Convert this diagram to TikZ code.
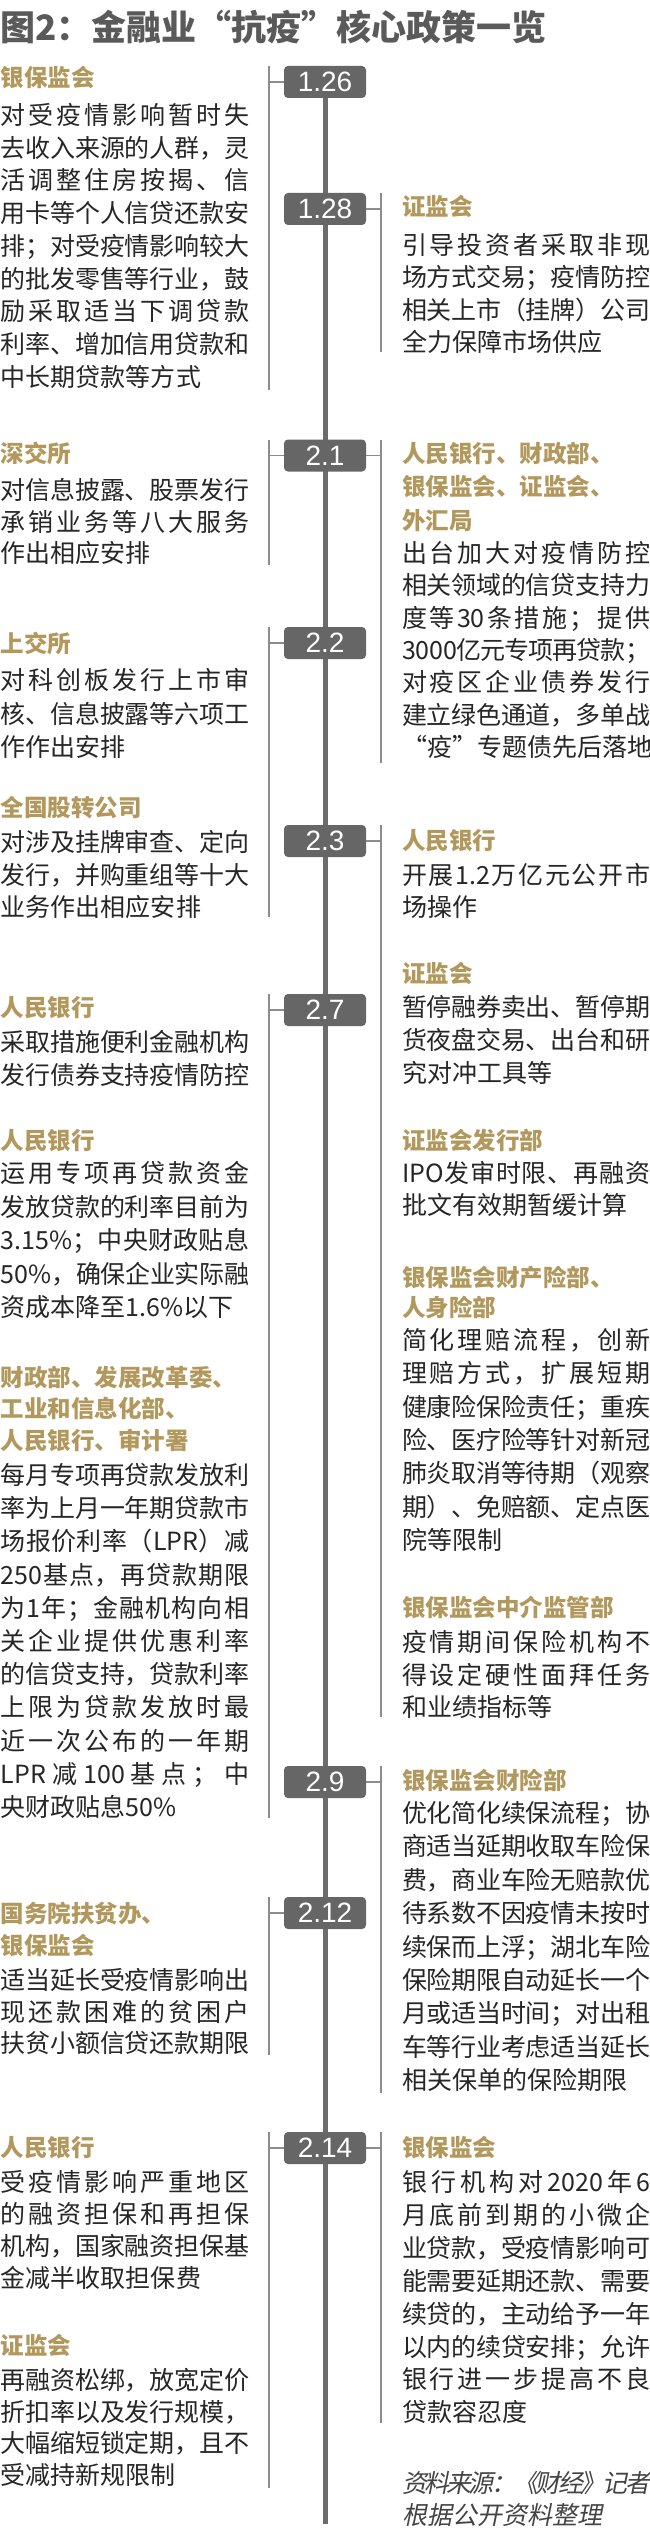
\documentclass[tikz,border=0pt]{standalone}
\usepackage{fontspec}
\setmainfont{Noto Sans CJK SC}
\newfontfamily\datefont{Liberation Sans}
\newfontfamily\srcfont[FakeSlant=0.2]{Noto Sans CJK SC}
\definecolor{gold}{RGB}{178,152,92}
\definecolor{bodycol}{RGB}{38,38,38}
\definecolor{titlecol}{RGB}{90,90,90}
\definecolor{boxcol}{RGB}{102,102,102}
\definecolor{spinecol}{RGB}{108,108,108}
\definecolor{thincol}{RGB}{140,140,140}
\definecolor{srccol}{RGB}{68,68,68}
\newdimen\jw \jw=248pt
\def\jla#1{#1\jlb}
\def\jlb#1{\ifx\relax#1\else\hskip 0pt plus 1fil minus 1fil\relax #1\expandafter\jlb\fi}
\def\Jl#1{\hbox to\jw{\jla#1\relax}}
\def\Nl#1{\hbox{#1}}
\tikzset{
  bodytext/.style={anchor=base west, inner sep=0pt, outer sep=0pt, text=bodycol, font=\fontsize{25}{25}\selectfont},
  headtext/.style={anchor=base west, inner sep=0pt, outer sep=0pt, text=gold, font=\fontsize{23.5}{23.5}\selectfont\bfseries},
  titletext/.style={anchor=base west, inner sep=0pt, outer sep=0pt, text=titlecol, font=\fontsize{35}{35}\selectfont\bfseries},
  srctext/.style={anchor=base west, inner sep=0pt, outer sep=0pt, text=srccol, font=\srcfont\fontsize{25}{25}\selectfont},
  datebox/.style={fill=boxcol, rounded corners=4pt, minimum width=82pt, minimum height=32pt, inner sep=0pt, text=white, font=\datefont\fontsize{28}{28}\selectfont},
  spine/.style={draw=spinecol, line width=5pt},
  thin/.style={draw=thincol, line width=1.2pt},
}
\newcommand\blk[5]{\node[bodytext] (#1) at (#2,#3+9.5) {\vtop{\baselineskip=#4pt\lineskiplimit=-100pt #5}};}
\newcommand\hd[5]{\node[headtext] (#1) at (#2,#3+9) {\vtop{\baselineskip=#4pt\lineskiplimit=-100pt #5}};}
\begin{document}
\begin{tikzpicture}[x=1pt,y=-1pt]
\useasboundingbox (0,0) rectangle (650,2531);
\fill[white] (0,0) rectangle (650,2531);

\node[titletext] (title) at (0,41) {图2：金融业“抗疫”核心政策一览};

% spine
\coordinate (spinetop) at (325,82);
\coordinate (spinebot) at (325,2524);
\draw[spine] (spinetop) -- (spinebot);

% date boxes
\node[datebox] (d126) at (325,82) {1.26};
\node[datebox] (d128) at (325,209) {1.28};
\node[datebox] (d21) at (325,455.5) {2.1};
\node[datebox] (d22) at (325,643) {2.2};
\node[datebox] (d23) at (325,841) {2.3};
\node[datebox] (d27) at (325,1010) {2.7};
\node[datebox] (d29) at (325,1782) {2.9};
\node[datebox] (d212) at (325,1913) {2.12};
\node[datebox] (d214) at (325,2148) {2.14};

% thin side lines (left x=269, right x=381)
\coordinate (La1) at (269,66);   \coordinate (Lb1) at (269,390);
\coordinate (La2) at (269,439.5);  \coordinate (Lb2) at (269,565);
\coordinate (La3) at (269,627);  \coordinate (Lb3) at (269,917);
\coordinate (La4) at (269,994);  \coordinate (Lb4) at (269,1818);
\coordinate (La5) at (269,1897); \coordinate (Lb5) at (269,2055);
\coordinate (La6) at (269,2132); \coordinate (Lb6) at (269,2488);
\coordinate (Ra1) at (381,193);  \coordinate (Rb1) at (381,352);
\coordinate (Ra2) at (381,439.5);  \coordinate (Rb2) at (381,763);
\coordinate (Ra3) at (381,825);  \coordinate (Rb3) at (381,1717);
\coordinate (Ra4) at (381,1766); \coordinate (Rb4) at (381,2093);
\coordinate (Ra5) at (381,2132); \coordinate (Rb5) at (381,2423);
\foreach \i in {1,...,6} {\draw[thin] (La\i) -- (Lb\i);}
\foreach \i in {1,...,5} {\draw[thin] (Ra\i) -- (Rb\i);}

% ticks
\draw[thin] (d126.west) -- (d126.west -| La1);
\draw[thin] (d128.east) -- (d128.east -| Ra1);
\draw[thin] (d21.west) -- (d21.west -| La2);
\draw[thin] (d21.east) -- (d21.east -| Ra2);
\draw[thin] (d22.west) -- (d22.west -| La3);
\draw[thin] (d23.east) -- (d23.east -| Ra3);
\draw[thin] (d27.west) -- (d27.west -| La4);
\draw[thin] (d29.east) -- (d29.east -| Ra4);
\draw[thin] (d212.west) -- (d212.west -| La5);
\draw[thin] (d214.west) -- (d214.west -| La6);
\draw[thin] (d214.east) -- (d214.east -| Ra5);

% ---------- left column ----------
\hd{hL1}{1}{78}{32}{\Nl{银保监会}}
\blk{bL1}{1}{115}{32.75}{\Jl{对受疫情影响暂时失}\Jl{去收入来源的人群，灵}\Jl{活调整住房按揭、信}\Jl{用卡等个人信贷还款安}\Jl{排；对受疫情影响较大}\Jl{的批发零售等行业，鼓}\Jl{励采取适当下调贷款}\Jl{利率、增加信用贷款和}\Nl{中长期贷款等方式}}

\hd{hL2}{1}{453}{32}{\Nl{深交所}}
\blk{bL2}{1}{490}{31.5}{\Jl{对信息披露、股票发行}\Jl{承销业务等八大服务}\Nl{作出相应安排}}

\hd{hL3}{1}{643}{32}{\Nl{上交所}}
\blk{bL3}{1}{680}{33.5}{\Jl{对科创板发行上市审}\Jl{核、信息披露等六项工}\Nl{作作出安排}}

\hd{hL4}{1}{807}{32}{\Nl{全国股转公司}}
\blk{bL4}{1}{842}{32.5}{\Jl{对涉及挂牌审查、定向}\Jl{发行，并购重组等十大}\Nl{业务作出相应安排}}

\hd{hL5}{1}{1007}{32}{\Nl{人民银行}}
\blk{bL5}{1}{1042}{33}{\Jl{采取措施便利金融机构}\Jl{发行债券支持疫情防控}}

\hd{hL6}{1}{1140}{32}{\Nl{人民银行}}
\blk{bL6}{1}{1173}{33.5}{\Jl{运用专项再贷款资金}\Jl{发放贷款的利率目前为}\Jl{{3.15\%}；中央财政贴息}\Jl{{50\%}，确保企业实际融}\Nl{资成本降至1.6\%以下}}

\hd{hL7}{1}{1377}{31.5}{\Nl{财政部、发展改革委、}\Nl{工业和信息化部、}\Nl{人民银行、审计署}}
\blk{bL7}{1}{1475}{33.2}{\Jl{每月专项再贷款发放利}\Jl{率为上月一年期贷款市}\Jl{场报价利率（{LPR}）减}\Jl{{250}基点，再贷款期限}\Jl{为{1}年；金融机构向相}\Jl{关企业提供优惠利率}\Jl{的信贷支持，贷款利率}\Jl{上限为贷款发放时最}\Jl{近一次公布的一年期}\Jl{{LPR}减{100}基点；中}\Nl{央财政贴息50\%}}

\hd{hL8}{1}{1913}{32}{\Nl{国务院扶贫办、}\Nl{银保监会}}
\blk{bL8}{1}{1980}{31.5}{\Jl{适当延长受疫情影响出}\Jl{现还款困难的贫困户}\Jl{扶贫小额信贷还款期限}}

\hd{hL9}{1}{2147}{32}{\Nl{人民银行}}
\blk{bL9}{1}{2182}{32}{\Jl{受疫情影响严重地区}\Jl{的融资担保和再担保}\Jl{机构，国家融资担保基}\Nl{金减半收取担保费}}

\hd{hL10}{1}{2345}{32}{\Nl{证监会}}
\blk{bL10}{1}{2380}{31.7}{\Jl{再融资松绑，放宽定价}\Jl{折扣率以及发行规模，}\Jl{大幅缩短锁定期，且不}\Nl{受减持新规限制}}

% ---------- right column ----------
\hd{hR1}{402}{207}{32}{\Nl{证监会}}
\blk{bR1}{402}{245}{32.3}{\Jl{引导投资者采取非现}\Jl{场方式交易；疫情防控}\Jl{相关上市（挂牌）公司}\Nl{全力保障市场供应}}

\hd{hR2}{402}{453}{33.5}{\Nl{人民银行、财政部、}\Nl{银保监会、证监会、}\Nl{外汇局}}
\blk{bR2}{402}{553}{32.3}{\Jl{出台加大对疫情防控}\Jl{相关领域的信贷支持力}\Jl{度等{30}条措施；提供}\Jl{{3000}亿元专项再贷款；}\Jl{对疫区企业债券发行}\Jl{建立绿色通道，多单战}\Nl{“疫”专题债先后落地}}

\hd{hR3}{402}{840}{32}{\Nl{人民银行}}
\blk{bR3}{402}{875}{32}{\Jl{开展{1.2}万亿元公开市}\Nl{场操作}}

\hd{hR4}{402}{973}{32}{\Nl{证监会}}
\blk{bR4}{402}{1007}{33}{\Jl{暂停融券卖出、暂停期}\Jl{货夜盘交易、出台和研}\Nl{究对冲工具等}}

\hd{hR5}{402}{1140}{32}{\Nl{证监会发行部}}
\blk{bR5}{402}{1173}{32}{\Jl{{IPO}发审时限、再融资}\Nl{批文有效期暂缓计算}}

\hd{hR6}{402}{1277}{30}{\Nl{银保监会财产险部、}\Nl{人身险部}}
\blk{bR6}{402}{1340}{33.3}{\Jl{简化理赔流程，创新}\Jl{理赔方式，扩展短期}\Jl{健康险保险责任；重疾}\Jl{险、医疗险等针对新冠}\Jl{肺炎取消等待期（观察}\Jl{期）、免赔额、定点医}\Nl{院等限制}}

\hd{hR7}{402}{1607}{32}{\Nl{银保监会中介监管部}}
\blk{bR7}{402}{1642}{32.5}{\Jl{疫情期间保险机构不}\Jl{得设定硬性面拜任务}\Nl{和业绩指标等}}

\hd{hR8}{402}{1780}{32}{\Nl{银保监会财险部}}
\blk{bR8}{402}{1813}{33.4}{\Jl{优化简化续保流程；协}\Jl{商适当延期收取车险保}\Jl{费，商业车险无赔款优}\Jl{待系数不因疫情未按时}\Jl{续保而上浮；湖北车险}\Jl{保险期限自动延长一个}\Jl{月或适当时间；对出租}\Jl{车等行业考虑适当延长}\Nl{相关保单的保险期限}}

\hd{hR9}{402}{2147}{32}{\Nl{银保监会}}
\blk{bR9}{402}{2182}{32.9}{\Jl{银行机构对{2020}年{6}}\Jl{月底前到期的小微企}\Jl{业贷款，受疫情影响可}\Jl{能需要延期还款、需要}\Jl{续贷的，主动给予一年}\Jl{以内的续贷安排；允许}\Jl{银行进一步提高不良}\Nl{贷款容忍度}}

\node[srctext] (src) at (402,2483+9.5) {\vtop{\baselineskip=32pt\lineskiplimit=-100pt \Jl{资料来源：《财经》记者}\Nl{根据公开资料整理}}};
\end{tikzpicture}
\end{document}
